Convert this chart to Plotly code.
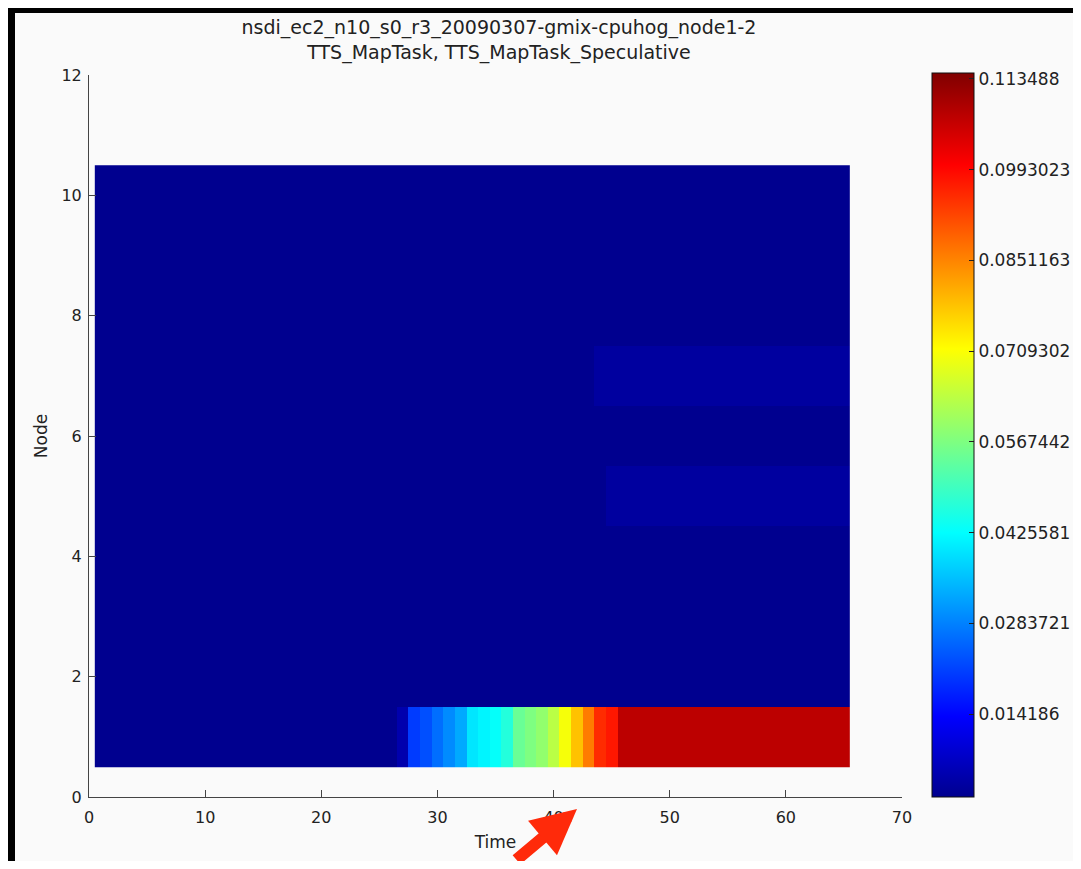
import plotly.graph_objects as go

# ---------------- data ----------------
times = list(range(1, 66))
nodes = [1, 2, 3, 4, 5, 6, 7, 8, 9, 10]

baseline_row = [0.0, 0.0, 0.0, 0.0, 0.0, 0.0, 0.0, 0.0, 0.0, 0.0,
                0.0, 0.0, 0.0, 0.0, 0.0, 0.0, 0.0, 0.0, 0.0, 0.0,
                0.0, 0.0, 0.0, 0.0, 0.0, 0.0, 0.0, 0.0, 0.0, 0.0,
                0.0, 0.0, 0.0, 0.0, 0.0, 0.0, 0.0, 0.0, 0.0, 0.0,
                0.0, 0.0, 0.0, 0.0, 0.0, 0.0, 0.0, 0.0, 0.0, 0.0,
                0.0, 0.0, 0.0, 0.0, 0.0, 0.0, 0.0, 0.0, 0.0, 0.0,
                0.0, 0.0, 0.0, 0.0, 0.0]

node1_values = [0.0, 0.0, 0.0, 0.0, 0.0, 0.0, 0.0, 0.0, 0.0, 0.0,
                0.0, 0.0, 0.0, 0.0, 0.0, 0.0, 0.0, 0.0, 0.0, 0.0,
                0.0, 0.0, 0.0, 0.0, 0.0, 0.0, 0.0046, 0.0205, 0.0227, 0.0262,
                0.0295, 0.0329, 0.0397, 0.0414, 0.0431, 0.0465, 0.0544, 0.0567, 0.0590, 0.0635,
                0.0703, 0.0782, 0.0861, 0.0952, 0.0974, 0.1076, 0.1076, 0.1076, 0.1076, 0.1076,
                0.1076, 0.1076, 0.1076, 0.1076, 0.1076, 0.1076, 0.1076, 0.1076, 0.1076, 0.1076,
                0.1076, 0.1076, 0.1076, 0.1076, 0.1076]

node5_values = [0.0, 0.0, 0.0, 0.0, 0.0, 0.0, 0.0, 0.0, 0.0, 0.0,
                0.0, 0.0, 0.0, 0.0, 0.0, 0.0, 0.0, 0.0, 0.0, 0.0,
                0.0, 0.0, 0.0, 0.0, 0.0, 0.0, 0.0, 0.0, 0.0, 0.0,
                0.0, 0.0, 0.0, 0.0, 0.0, 0.0, 0.0, 0.0, 0.0, 0.0,
                0.0, 0.0, 0.0, 0.0, 0.003, 0.003, 0.003, 0.003, 0.003, 0.003,
                0.003, 0.003, 0.003, 0.003, 0.003, 0.003, 0.003, 0.003, 0.003, 0.003,
                0.003, 0.003, 0.003, 0.003, 0.003]

node7_values = [0.0, 0.0, 0.0, 0.0, 0.0, 0.0, 0.0, 0.0, 0.0, 0.0,
                0.0, 0.0, 0.0, 0.0, 0.0, 0.0, 0.0, 0.0, 0.0, 0.0,
                0.0, 0.0, 0.0, 0.0, 0.0, 0.0, 0.0, 0.0, 0.0, 0.0,
                0.0, 0.0, 0.0, 0.0, 0.0, 0.0, 0.0, 0.0, 0.0, 0.0,
                0.0, 0.0, 0.0, 0.003, 0.003, 0.003, 0.003, 0.003, 0.003, 0.003,
                0.003, 0.003, 0.003, 0.003, 0.003, 0.003, 0.003, 0.003, 0.003, 0.003,
                0.003, 0.003, 0.003, 0.003, 0.003]

rows_by_node = {1: node1_values, 5: node5_values, 7: node7_values}
z = [rows_by_node.get(n, baseline_row) for n in nodes]

cbar_tickvals = [0.014186, 0.0283721, 0.0425581, 0.0567442, 0.0709302,
                 0.0851163, 0.0993023, 0.113488]
cbar_ticktext = ["0.014186", "0.0283721", "0.0425581", "0.0567442", "0.0709302",
                 "0.0851163", "0.0993023", "0.113488"]
color_min = 0.00125
color_max = 0.1144

x_ticks = [0, 10, 20, 30, 40, 50, 60, 70]
y_ticks = [0, 2, 4, 6, 8, 10, 12]

title_line1 = "nsdi_ec2_n10_s0_r3_20090307-gmix-cpuhog_node1-2"
title_line2 = "TTS_MapTask, TTS_MapTask_Speculative"

# ---------------- styling ----------------
OFF = 8                      # page offset of the figure inside the window
W, H = 1081 - 2 * OFF, 869 - 2 * OFF
ML, MT = 81, 67
PW, PH = 813, 722
MR = W - ML - PW
MB = H - MT - PH
FONT = "DejaVu Sans, Verdana, sans-serif"
TXT = "#222222"
AX_COLOR = "#444444"
FIG_BG = "#fafafa"

jet = [
    [0.0, "rgb(0,0,143)"],
    [0.111, "rgb(0,0,255)"],
    [0.365, "rgb(0,255,255)"],
    [0.619, "rgb(255,255,0)"],
    [0.873, "rgb(255,0,0)"],
    [1.0, "rgb(128,0,0)"],
]

def px_x(win_px):
    return (win_px - OFF - ML) / PW

def px_y(win_py):
    return (H - MB - (win_py - OFF)) / PH

fig = go.Figure(
    go.Heatmap(
        x=times,
        y=nodes,
        z=z,
        colorscale=jet,
        zmin=color_min,
        zmax=color_max,
        colorbar=dict(
            thickness=42,
            thicknessmode="pixels",
            len=724,
            lenmode="pixels",
            x=px_x(932),
            xanchor="left",
            xpad=0,
            y=0,
            yanchor="bottom",
            ypad=0,
            outlinecolor="#111111",
            outlinewidth=1,
            tickvals=cbar_tickvals,
            ticktext=cbar_ticktext,
            ticks="inside",
            ticklen=5,
            tickcolor="#222222",
            tickfont=dict(family=FONT, size=17, color=TXT),
        ),
    )
)

fig.update_layout(
    width=W,
    height=H,
    margin=dict(l=ML, r=MR, t=MT, b=MB, autoexpand=False),
    paper_bgcolor="#000000",
    plot_bgcolor=FIG_BG,
    font=dict(family=FONT, size=16, color=TXT),
    title=dict(
        text=title_line1 + "<br>" + title_line2,
        x=px_x(499), xref="paper", xanchor="center",
        y=1 - 26 / H, yref="container", yanchor="top",
        font=dict(family=FONT, size=19, color=TXT),
    ),
    xaxis=dict(
        range=[0, 70],
        tickvals=x_ticks,
        ticks="inside",
        ticklen=7,
        tickcolor=AX_COLOR,
        showline=True,
        linecolor=AX_COLOR,
        linewidth=1,
        showgrid=False,
        zeroline=False,
        mirror=False,
        ticklabelstandoff=6,
        tickfont=dict(family=FONT, size=16, color=TXT),
        title=dict(text="Time", standoff=9, font=dict(family=FONT, size=17, color=TXT)),
    ),
    yaxis=dict(
        range=[0, 12],
        tickvals=y_ticks,
        ticks="inside",
        ticklen=7,
        tickcolor=AX_COLOR,
        showline=True,
        linecolor=AX_COLOR,
        linewidth=1,
        showgrid=False,
        zeroline=False,
        mirror=False,
        ticklabelstandoff=3,
        tickfont=dict(family=FONT, size=16, color=TXT),
        title=dict(text="Node", standoff=9, font=dict(family=FONT, size=17, color=TXT)),
    ),
    shapes=[
        dict(
            type="rect", xref="paper", yref="paper", layer="below",
            x0=px_x(15), x1=px_x(1081 + 5), y0=px_y(869 + 5), y1=px_y(13),
            fillcolor=FIG_BG, line=dict(width=0),
        )
    ],
    annotations=[
        dict(
            x=px_x(577), y=px_y(809), xref="paper", yref="paper",
            text="", showarrow=True,
            ax=-62, ay=60, axref="pixel", ayref="pixel",
            arrowcolor="#ff2a0a", arrowwidth=12, arrowhead=2, arrowsize=0.75,
            standoff=0,
        )
    ],
)

fig.write_html("out.html")
